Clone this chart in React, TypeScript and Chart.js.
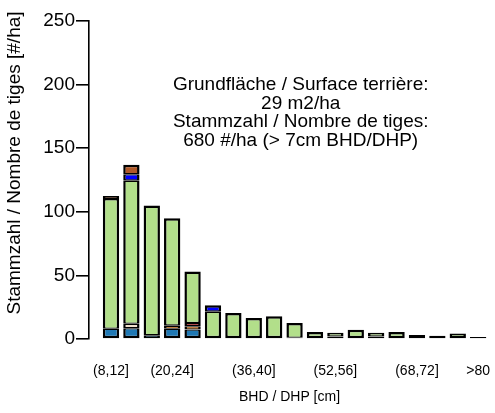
import { useEffect, useRef } from 'react';
import { Chart, registerables } from 'chart.js';

Chart.register(...registerables);

const categories = ['(8,12]', '(12,16]', '(16,20]', '(20,24]', '(24,28]', '(28,32]', '(32,36]', '(36,40]', '(40,44]', '(44,48]', '(48,52]', '(52,56]', '(56,60]', '(60,64]', '(64,68]', '(68,72]', '(72,76]', '(76,80]', '>80'];
const shownTickLabels = ['(8,12]', '(20,24]', '(36,40]', '(52,56]', '(68,72]', '>80'];
const yTicks = [0, 50, 100, 150, 200, 250];

// stacked series, bottom -> top
const steelBlueValues = [8, 8.5, 3, 8, 7.5, 1.5, 0, 1.5, 0, 1, 0, 2, 0, 2, 0, 0, 0, 1.5, 0];
const beigeValues = [0, 3.5, 0, 0, 0, 0, 0, 0, 0, 0, 0, 0, 0, 0, 0, 0, 0, 0, 0];
const orangeValues = [0, 0, 0, 2.5, 2.5, 0, 0, 0, 0, 0, 0, 0, 0, 0, 0, 0, 0, 0, 0];
const redValues = [0, 0, 0, 0, 2.5, 0, 0, 0, 0, 0, 0, 0, 0, 0, 0, 0, 0, 0, 0];
const greenValues = [102, 112.5, 102, 84.5, 40.5, 20, 20.5, 15, 17.8, 11.6, 5.5, 3, 7.3, 3, 5.5, 3.1, 2.6, 2.9, 1.6];
const blueValues = [0, 5, 0, 0, 0, 5, 0, 0, 0, 0, 0, 0, 0, 0, 0, 0, 0, 0, 0];
const brownValues = [2.5, 7.5, 0, 0, 0, 0, 0, 0, 0, 0, 0, 0, 0, 0, 0, 0, 0, 0, 0];

const seriesValues = [steelBlueValues, beigeValues, orangeValues, redValues, greenValues, blueValues, brownValues];
const seriesNames = ['A', 'B', 'C', 'D', 'E', 'F', 'G'];
const seriesColors = ['#1f78b4', '#f3e3cf', '#ff7f00', '#e31a1c', '#b2df8a', '#0000ff', '#b15928'];

const annotationLines = [
  'Grundfläche / Surface terrière:',
  '29 m2/ha',
  'Stammzahl / Nombre de tiges:',
  '680 #/ha (> 7cm BHD/DHP)',
];
const yTitle = 'Stammzahl / Nombre de tiges [#/ha]';
const xTitle = 'BHD / DHP [cm]';

const FONT = '"Liberation Sans", Arial, Helvetica, sans-serif';

const textPlugin = {
  id: 'annotText',
  afterDraw(chart: any) {
    const { ctx, scales, chartArea } = chart;
    ctx.save();
    ctx.fillStyle = '#000';
    ctx.font = `19px ${FONT}`;
    ctx.textAlign = 'center';
    ctx.textBaseline = 'middle';
    const cx = scales.x.getPixelForValue(9.3);
    const cy = scales.y.getPixelForValue(200);
    annotationLines.forEach((line, k) => ctx.fillText(line, cx, cy + k * 18.8));
    ctx.translate(15, (chartArea.top + chartArea.bottom) / 2 - 17);
    ctx.rotate(-Math.PI / 2);
    ctx.fillText(yTitle, 0, 0);
    ctx.restore();
  },
};

export default function App() {
  const ref = useRef<HTMLCanvasElement | null>(null);
  useEffect(() => {
    if (!ref.current) return;
    const outer = 2.5;
    const inner = 1.3;
    const datasets = seriesValues.map((vals, d) => ({
      label: seriesNames[d],
      data: vals.map((v, i) => ({ x: i, y: v })),
      backgroundColor: seriesColors[d],
      borderColor: '#000',
      borderSkipped: false as const,
      borderWidth: (c: any) => {
        const i = c.dataIndex;
        const nz: number[] = [];
        seriesValues.forEach((a, k) => { if (a[i] > 0) nz.push(k); });
        const top = nz[nz.length - 1];
        const bottom = nz[0];
        return {
          left: outer,
          right: outer,
          top: c.datasetIndex === top ? outer : inner,
          bottom: c.datasetIndex === bottom ? outer : inner,
        };
      },
      barPercentage: 0.8,
      categoryPercentage: 1,
    }));
    const chart = new Chart(ref.current, {
      type: 'bar',
      data: { datasets },
      plugins: [textPlugin],
      options: {
        animation: false,
        responsive: true,
        maintainAspectRatio: false,
        layout: { padding: { top: 21, right: 5, left: 0, bottom: 0 } },
        plugins: { legend: { display: false }, tooltip: { enabled: false } },
        scales: {
          x: {
            type: 'linear',
            stacked: true,
            offset: false,
            min: -1.078,
            max: 18.58,
            afterBuildTicks: (s: any) => { s.ticks = categories.map((_, i) => ({ value: i })); },
            afterFit: (s: any) => { s.height = 74; s.paddingLeft = 0; s.paddingRight = 0; },
            grid: { display: false, drawTicks: false },
            border: { display: false },
            ticks: {
              autoSkip: false,
              maxRotation: 0,
              padding: 24,
              color: '#000',
              font: { family: FONT, size: 14 },
              callback: (v: any) => {
                const lab = categories[Math.round(Number(v))];
                return shownTickLabels.includes(lab) ? lab : '';
              },
            },
            title: {
              display: true,
              text: xTitle,
              color: '#000',
              font: { family: FONT, size: 14 },
              padding: { top: 0, bottom: 7 },
            },
          },
          y: {
            stacked: true,
            min: 0,
            max: 250,
            afterBuildTicks: (s: any) => { s.ticks = yTicks.map((v) => ({ value: v })); },
            afterFit: (s: any) => { s.width = 89; },
            grid: { display: true, drawOnChartArea: false, drawTicks: true, tickLength: 13, color: '#000', lineWidth: 1.6 },
            border: { display: true, color: '#000', width: 1.6 },
            ticks: {
              padding: 1,
              color: '#000',
              font: { family: FONT, size: 19 },
            },
          },
        },
      },
    });
    return () => chart.destroy();
  }, []);
  return (
    <div style={{ position: 'fixed', left: 0, top: 0, width: 495, height: 413, background: '#fff' }}>
      <canvas ref={ref} />
    </div>
  );
}
